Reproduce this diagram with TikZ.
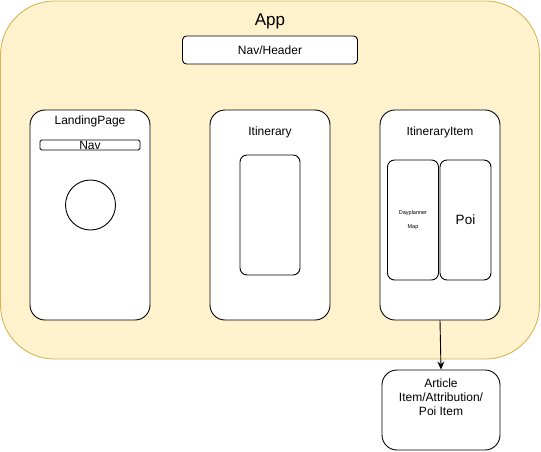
\documentclass[tikz,border=0pt]{standalone}
\usepackage{fontspec}
\setmainfont{Liberation Sans}
\definecolor{appfill}{HTML}{FFF2CC}
\definecolor{appline}{HTML}{D6B656}
\usetikzlibrary{arrows.meta,positioning}

\begin{document}
\begin{tikzpicture}[x=1pt,y=-1pt,
  box/.style={draw,fill=white,line width=0.9pt,rounded corners=15pt,inner sep=0pt},
  inbox/.style={draw,fill=white,line width=0.9pt,rounded corners=7pt,inner sep=0pt},
  txt/.style={font=\fontsize{12}{14}\selectfont,inner sep=0pt}]
  \useasboundingbox (0,0) rectangle (541,451);
  % App container
  \node[draw=appline,fill=appfill,line width=0.9pt,rounded corners=54pt,
    minimum width=539pt,minimum height=358pt,inner sep=0pt] (app) at (270,180) {};
  \node[font=\fontsize{17}{20}\selectfont,inner sep=0pt] (applbl) at (270,21) {App};
  \node[box,rounded corners=4pt,minimum width=175pt,minimum height=28pt,txt] (header) at (270,50) {Nav/Header};
  % LandingPage
  \node[box,minimum width=120pt,minimum height=210pt] (landing) at (90,215) {};
  \node[txt] (landlbl) at (90,121) {LandingPage};
  \node[draw,fill=white,line width=0.9pt,rounded corners=1.5pt,minimum width=100pt,minimum height=10pt,inner sep=0pt] (nav) at (90,145) {};
  \node[txt] (navlbl) at (90,145.5) {Nav};
  \node[draw,circle,line width=0.9pt,minimum size=50pt,inner sep=0pt] (circ) at (90.5,205) {};
  % Itinerary
  \node[box,minimum width=120pt,minimum height=210pt] (itin) at (270,215) {};
  \node[txt] (itinlbl) at (270,132) {Itinerary};
  \node[inbox,minimum width=60pt,minimum height=120pt] (itinin) at (270,215) {};
  % ItineraryItem
  \node[box,minimum width=120pt,minimum height=210pt] (item) at (440,215) {};
  \node[txt] (itemlbl) at (440,132) {ItineraryItem};
  \node[inbox,minimum width=51pt,minimum height=120pt,align=center,
    font=\fontsize{5.5}{14}\selectfont] (daymap) at (413,220) {Dayplanner\\Map};
  \node[inbox,minimum width=51pt,minimum height=120pt,
    font=\fontsize{13.5}{16}\selectfont] (poi) at (465.5,220) {Poi};
  % Article
  \node[box,minimum width=118pt,minimum height=80pt] (article) at (441,410) {};
  \node[txt,align=center] (artlbl) at (441,397) {Article\\Item/Attribution/\\Poi Item};
  \draw[-{Stealth[length=8pt,width=7pt]},line width=0.9pt] (item.south) -- (article.north);
\end{tikzpicture}
\end{document}
